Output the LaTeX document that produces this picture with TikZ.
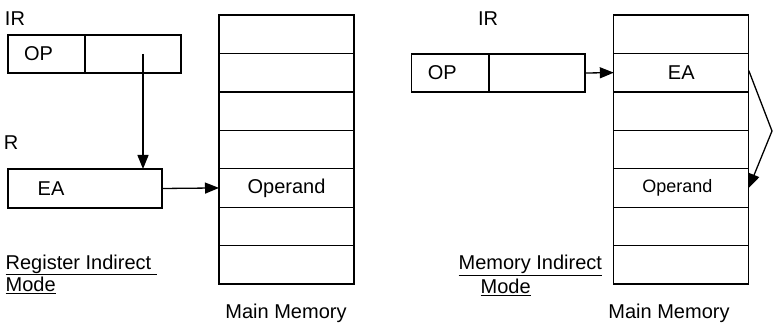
\documentclass[tikz,border=0pt]{standalone}
\usepackage{fontspec}
\setmainfont{Liberation Sans}
\usetikzlibrary{positioning,arrows.meta}

\begin{document}
\begin{tikzpicture}[x=1pt,y=-1pt,line width=1.3pt,
every node/.style={font=\fontsize{20}{22.5}\selectfont},
box/.style={draw,rectangle,inner sep=0pt,outer sep=0pt,minimum height=38pt},
cell/.style={box,minimum width=135pt,minimum height=38.43pt}]

\tikzset{fleche/.style={-{Triangle[length=14pt,width=11pt]},line width=1.3pt}}

\useasboundingbox (0,0) rectangle (773,323);

% register indirect
\node (irL) at (15,19) {IR};
\node[box,minimum width=77pt,label={[xshift=-8pt]center:OP}] (opL) at (46.5,54) {};
\node[box,minimum width=96pt,right=0pt of opL] (adL) {};
\node (rL) at (11,143) {R};
\node[box,minimum width=154pt,minimum height=39pt,label={[xshift=-34pt]center:EA}] (ea) at (85,188.5) {};
\foreach \i in {1,...,7}
  \node[cell] (ml\i) at (286.5,{15+38.43*(\i-0.5)}) {};
\node at (ml5) {Operand};
\node (mmL) at (286,313) {Main Memory};
\node[align=left,anchor=north west,inner sep=0pt] (modeL) at (5,254)
  {\underline{Register Indirect\ }\\\underline{Mode}};

\draw[fleche] ([xshift=10pt]adL.center) coordinate (p) -- (p |- ea.north);
\draw[fleche] (ea.east) -- (ml5.west);

% memory indirect
\node (irR) at (488,19) {IR};
\node[box,minimum width=77.3pt,label={[xshift=-8pt]center:OP}] (opR) at (450.3,73) {};
\node[box,minimum width=96pt,right=0pt of opR] (adR) {};
\foreach \i in {1,...,7}
  \node[cell] (mr\i) at (681.3,{15+38.43*(\i-0.5)}) {};
\node at (mr2) {EA};
\node[font=\fontsize{18}{22}\selectfont,xshift=-4pt] at (mr5) {Operand};
\node (mmR) at (669,313) {Main Memory};
\node[anchor=west,inner sep=0pt] (memR) at (458,265) {\underline{Memory Indirect}};
\node[anchor=west,inner sep=0pt] (modeR) at (480,287) {\underline{Mode}};
\coordinate (bend) at (772,131);

\draw[fleche] (adR.east) -- (mr2.west);
\draw[fleche] ([yshift=2pt]mr2.east) -- (bend) -- (mr5.east);
\end{tikzpicture}
\end{document}
